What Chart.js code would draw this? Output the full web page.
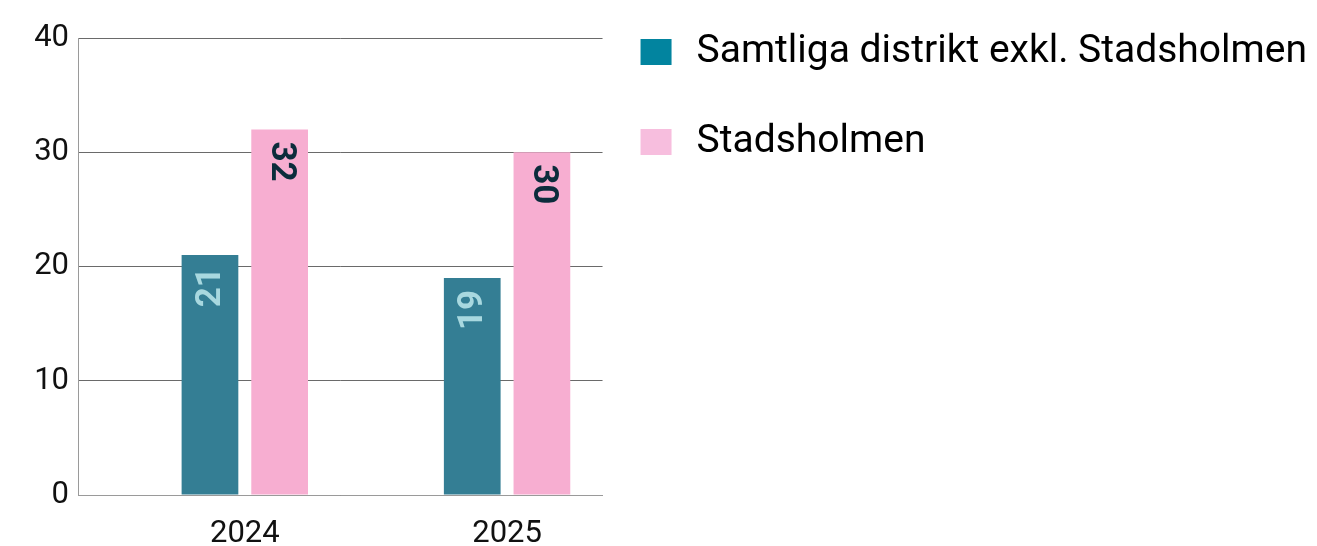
<!DOCTYPE html>
<html>
<head>
<meta charset="utf-8">
<script src="https://cdn.jsdelivr.net/npm/chart.js@4/dist/chart.umd.min.js"></script>
<style>
  html, body { margin: 0; padding: 0; background: #ffffff; }
  #wrap { width: 1317px; height: 546px; position: relative; }
</style>
</head>
<body>
<div id="wrap"><canvas id="c" width="1317" height="546"></canvas></div>
<script>
const categories = ['2024', '2025'];
const seriesNames = ['Samtliga distrikt exkl. Stadsholmen', 'Stadsholmen'];
const seriesDistrikt = [21, 19];
const seriesStadsholmen = [32, 30];
const yTicks = [0, 10, 20, 30, 40];

const barColors = ['#347E94', '#F7AED1'];
const legendColors = ['#02849F', '#F7BEDE'];
const valueLabelColors = ['#A8D8DF', '#0C2C3C'];

const toPoints = arr => arr.map((v, i) => ({ x: i, y: v }));

const barLabels = {
  id: 'barLabels',
  afterDatasetsDraw(chart) {
    const ctx = chart.ctx;
    chart.data.datasets.forEach((ds, di) => {
      const meta = chart.getDatasetMeta(di);
      meta.data.forEach((bar, i) => {
        const v = ds.data[i].y;
        ctx.save();
        ctx.font = 'bold 35px Roboto';
        ctx.fillStyle = valueLabelColors[di];
        ctx.textBaseline = 'middle';
        ctx.translate(bar.x + 1, bar.y + 12);
        if (di === 0) { ctx.rotate(-Math.PI / 2); ctx.textAlign = 'right'; }
        else { ctx.rotate(Math.PI / 2); ctx.textAlign = 'left'; }
        ctx.fillText(String(v), 0, 0);
        ctx.restore();
      });
    });
  }
};

new Chart(document.getElementById('c'), {
  type: 'bar',
  data: {
    datasets: [
      { label: seriesNames[0], data: toPoints(seriesDistrikt), backgroundColor: barColors[0] },
      { label: seriesNames[1], data: toPoints(seriesStadsholmen), backgroundColor: barColors[1] }
    ]
  },
  options: {
    responsive: false,
    animation: false,
    layout: { padding: 0 },
    datasets: { bar: { categoryPercentage: 0.5313, barPercentage: 0.814 } },
    plugins: {
      tooltip: { enabled: false },
      legend: {
        position: 'right',
        align: 'start',
        maxWidth: 900,
        labels: {
          boxWidth: 42,
          boxHeight: 37,
          padding: 32.5,
          color: '#000000',
          font: { family: 'Roboto', size: 39, lineHeight: '57.5px' },
          generateLabels(chart) {
            return chart.data.datasets.map((ds, i) => ({
              text: [ds.label],
              fillStyle: legendColors[i],
              strokeStyle: '#ffffff',
              lineWidth: 11,
              hidden: false,
              datasetIndex: i
            }));
          }
        }
      }
    },
    scales: {
      x: {
        type: 'linear',
        offset: false,
        min: -0.636,
        max: 1.364,
        afterBuildTicks(s) { s.ticks = categories.map((c, i) => ({ value: i })); },
        afterFit(s) { s.height = 51; s.paddingLeft = 0; s.paddingRight = 0; },
        grid: { display: false },
        border: { display: true, color: '#9a9a9a', width: 1 },
        ticks: {
          padding: 13,
          color: '#111111',
          font: { family: 'Roboto', size: 31 },
          maxRotation: 0,
          callback: v => categories[v]
        }
      },
      y: {
        min: 0,
        max: 40,
        afterBuildTicks(s) { s.ticks = yTicks.map(v => ({ value: v })); },
        afterFit(s) { s.width = 78; s.paddingTop = 38; s.paddingBottom = 0; },
        grid: { color: '#6a6a6a', lineWidth: 1, drawTicks: false },
        border: { display: true, color: '#9a9a9a', width: 1 },
        ticks: {
          padding: 9,
          color: '#111111',
          font: { family: 'Roboto', size: 31 }
        }
      }
    }
  },
  plugins: [barLabels]
});
</script>
</body>
</html>
